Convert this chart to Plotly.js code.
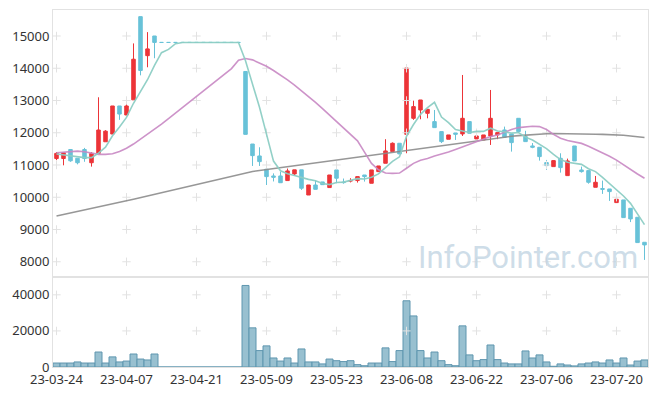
<!DOCTYPE html>
<html><head><meta charset="utf-8">
<script src="https://cdn.plot.ly/plotly-3.0.1.min.js"></script>
<style>html,body{margin:0;padding:0;background:#fff}#chart{width:657px;height:396px}</style>
</head><body><div id="chart"></div>
<script>
const dates = ["23-03-24","23-03-27","23-03-28","23-03-29","23-03-30","23-03-31","23-04-03","23-04-04","23-04-05","23-04-06",
"23-04-07","23-04-10","23-04-11","23-04-12","23-04-13","23-04-14","23-04-17","23-04-18","23-04-19","23-04-20",
"23-04-21","23-04-24","23-04-25","23-04-26","23-04-27","23-04-28","23-05-02","23-05-03","23-05-04","23-05-08",
"23-05-09","23-05-10","23-05-11","23-05-12","23-05-15","23-05-16","23-05-17","23-05-18","23-05-19","23-05-22",
"23-05-23","23-05-24","23-05-25","23-05-26","23-05-30","23-05-31","23-06-01","23-06-02","23-06-05","23-06-07",
"23-06-08","23-06-09","23-06-12","23-06-13","23-06-14","23-06-15","23-06-16","23-06-19","23-06-20","23-06-21",
"23-06-22","23-06-23","23-06-26","23-06-27","23-06-28","23-06-29","23-06-30","23-07-03","23-07-04","23-07-05",
"23-07-06","23-07-07","23-07-10","23-07-11","23-07-12","23-07-13","23-07-14","23-07-17","23-07-18","23-07-19",
"23-07-20","23-07-21","23-07-24","23-07-25","23-07-26"];

const openP = [11200,11200,11480,11210,11480,11070,11360,11720,11960,12830,
12550,13020,15600,14390,15000,14800,14800,14800,14800,14800,
14800,14800,14800,14800,14800,14800,14800,13900,11650,11280,
10868,10660,10660,10517,10723,10850,10070,10380,10475,10300,
10847,10470,10500,10517,10690,10434,10795,11054,11415,11674,
11952,12448,12706,12603,12345,12035,11798,11994,11963,12345,
11808,11777,11900,11932,12087,11963,12448,11880,11591,11550,
11074,10950,11208,10671,11590,10846,10826,10309,10270,10257,
9834,9917,9658,9379,8604];
const highP = [11400,11400,11480,11210,11530,11400,13100,12080,12830,12830,
13100,14770,15600,15120,15000,14800,14800,14800,14800,14800,
14800,14800,14800,14800,14800,14800,14800,13900,11650,11550,
10868,10740,10790,10890,10850,10850,10380,10517,10475,10690,
10847,10580,10590,10640,10690,10847,10970,11800,11700,11674,
14008,12995,13016,12727,12706,12035,11932,11994,13791,12345,
11970,11932,13326,12004,12190,11963,12448,12060,11680,11550,
11157,11126,11363,11198,11590,10950,10826,10660,10516,10257,
9990,9917,9658,9379,8604];
const lowP = [11150,10990,11100,11020,11100,10950,11360,11720,11960,12400,
12550,13020,13780,14030,14310,14800,14800,14800,14800,14800,
14800,14800,14800,14800,14800,14800,14800,11950,10970,10970,
10380,10490,10450,10517,10680,10227,10070,10245,10390,10300,
10434,10420,10460,10455,10485,10434,10795,11054,11415,11343,
11364,12400,12418,12448,12159,11680,11798,11777,11900,11983,
11808,11777,11622,11800,11859,11415,11990,11725,11520,11136,
10847,10950,10764,10671,11126,10764,10420,10309,10103,9886,
9834,9369,9230,8594,8057];
const closeP = [11360,11380,11130,11070,11200,11360,12085,12050,12830,12580,
12830,14280,13930,14600,14800,14800,14800,14800,14800,14800,
14800,14800,14800,14800,14800,14800,14800,11950,11290,11105,
10640,10620,10450,10816,10850,10280,10380,10245,10390,10690,
10590,10455,10517,10640,10640,10847,10970,11436,11674,11343,
14008,12810,13016,12727,12159,11725,11932,11953,12448,11983,
11900,11932,12448,12004,11859,11694,12035,11725,11550,11260,
10981,11136,10919,11126,11126,10795,10464,10464,10247,10175,
9937,9369,9328,8594,8522];
const volume = [2200,2200,2200,2800,2200,2200,8300,2200,5600,2800,
3300,7200,4400,3900,7200,0,0,0,0,0,
0,0,0,0,0,0,0,45200,21700,9100,
11700,5000,3300,5000,2200,10000,2800,2800,1700,4400,
3500,3000,3500,1300,700,2200,2200,10600,3000,9100,
36700,28300,9100,5000,8300,3500,1300,700,22800,6700,
3500,4100,12200,4100,2200,1700,1700,8900,5000,6700,
2800,400,1700,1100,600,1700,2200,2800,2200,3900,
2200,5000,1100,3300,3900];
const ma5 = [11340,11310,11290,11260,11228,11228,11369,11553,11905,12181,
12475,12914,13290,13644,14088,14482,14586,14760,14800,14800,
14800,14800,14800,14800,14800,14800,14800,14230,13528,12789,
11957,11121,10821,10726,10675,10603,10555,10510,10425,10393,
10455,10470,10528,10578,10568,10620,10723,10907,11113,11254,
11886,12254,12570,12781,12944,12487,12312,12099,12043,12008,
12043,12043,12142,12053,12029,11987,12008,11863,11773,11653,
11510,11330,11169,11084,11058,11020,10886,10795,10619,10429,
10257,10038,9811,9481,9150];
const ma20 = [11380,11400,11420,11430,11410,11360,11330,11330,11350,11420,
11520,11650,11800,11950,12100,12270,12440,12610,12780,12950,
13120,13290,13460,13630,13800,13990,14250,14300,14260,14170,
14060,13930,13790,13640,13480,13310,13130,12940,12750,12550,
12350,12150,11950,11750,11400,11050,10850,10750,10740,10750,
10900,11050,11150,11200,11280,11330,11400,11480,11560,11650,
11720,11790,11880,11930,12020,12100,12160,12190,12200,12190,
12100,11950,11830,11760,11720,11670,11580,11480,11380,11270,
11150,11000,10850,10720,10590];
const ma60 = [9420,9465,9510,9555,9600,9645,9690,9740,9790,9840,
9890,9940,9990,10040,10090,10140,10190,10240,10290,10340,
10390,10440,10490,10540,10590,10640,10700,10760,10800,10830,
10860,10890,10920,10950,10980,11010,11040,11070,11100,11130,
11160,11190,11220,11250,11280,11310,11340,11370,11400,11430,
11460,11490,11520,11550,11580,11610,11640,11670,11700,11730,
11760,11790,11820,11845,11870,11890,11910,11930,11945,11960,
11970,11975,11975,11975,11970,11965,11960,11955,11950,11945,
11935,11920,11900,11880,11850];
const xTicks = ["23-03-24","23-04-07","23-04-21","23-05-09","23-05-23","23-06-08","23-06-22","23-07-06","23-07-20"];
const priceTicks = [8000,9000,10000,11000,12000,13000,14000,15000];
const volTicks = [0,20000,40000];

const RED = 'rgb(236,52,56)', BLUE = 'rgb(104,194,216)';
const crossP = {x:[], y:[]}, crossV = {x:[], y:[]};
xTicks.forEach(t => { priceTicks.forEach(v => { crossP.x.push(t); crossP.y.push(v); });
  volTicks.filter(v => v > 0).forEach(v => { crossV.x.push(t); crossV.y.push(v); }); });
const crossMarker = {symbol:'cross-thin', size:6, line:{color:'#e2e2e2', width:1}};

const traces = [
  {type:'scatter', mode:'markers', x:crossP.x, y:crossP.y, xaxis:'x2', yaxis:'y', marker:crossMarker, hoverinfo:'skip', showlegend:false},
  {type:'scatter', mode:'markers', x:crossV.x, y:crossV.y, xaxis:'x', yaxis:'y2', marker:crossMarker, hoverinfo:'skip', showlegend:false},
  {type:'candlestick', x:dates, open:openP, high:highP, low:lowP, close:closeP, xaxis:'x2', yaxis:'y',
   increasing:{line:{color:RED, width:1}, fillcolor:RED},
   decreasing:{line:{color:BLUE, width:1}, fillcolor:BLUE},
   whiskerwidth:0, showlegend:false},
  {type:'scatter', mode:'lines', x:dates, y:ma60, xaxis:'x2', yaxis:'y', line:{color:'rgba(140,140,140,0.9)', width:1.6}, showlegend:false},
  {type:'scatter', mode:'lines', x:dates, y:ma20, xaxis:'x2', yaxis:'y', line:{color:'rgba(200,135,195,0.9)', width:1.6}, showlegend:false},
  {type:'scatter', mode:'lines', x:dates, y:ma5, xaxis:'x2', yaxis:'y', line:{color:'rgba(140,206,196,0.95)', width:1.6}, showlegend:false},
  {type:'bar', x:dates, y:volume, xaxis:'x', yaxis:'y2', marker:{color:'rgb(152,192,208)', line:{color:'rgb(95,150,175)', width:1}}, showlegend:false}
];

const tickFont = {family:'Noto Sans, DejaVu Sans, sans-serif', size:13, color:'#333'};
const frame = {showline:true, linecolor:'#e2e2e2', linewidth:1, mirror:true, showgrid:false, zeroline:false};
const layout = {
  width:657, height:396, margin:{l:53, r:9, t:10, b:29},
  paper_bgcolor:'#fff', plot_bgcolor:'#fff', showlegend:false, bargap:0, boxgap:0.28,
  xaxis: Object.assign({type:'category', categoryorder:'array', categoryarray:dates, range:[-0.5,84.5],
    anchor:'y2', tickmode:'array', tickvals:xTicks, ticktext:xTicks, ticks:'', tickfont:tickFont,
    rangeslider:{visible:false}}, frame),
  xaxis2: Object.assign({type:'category', categoryorder:'array', categoryarray:dates, range:[-0.5,84.5],
    anchor:'y', matches:'x', showticklabels:false, ticks:'', rangeslider:{visible:false}}, frame),
  yaxis: Object.assign({domain:[0.2521,1], range:[7527,15806], anchor:'x2', tickmode:'array', tickvals:priceTicks,
    ticktext:priceTicks.map(String), ticks:'', tickfont:tickFont}, frame),
  yaxis2: Object.assign({domain:[0,0.2521], range:[0,49890], anchor:'x', tickmode:'array', tickvals:volTicks,
    ticktext:volTicks.map(String), ticks:'', tickfont:tickFont}, frame),
  annotations:[{text:'InfoPointer.com', xref:'paper', yref:'paper', x:0.987, y:0.308, xanchor:'right', yanchor:'middle',
    showarrow:false, font:{family:'Roboto, Noto Sans, sans-serif', size:31, color:'rgba(190,210,225,0.75)'}}]
};
Plotly.newPlot('chart', traces, layout, {staticPlot:true, displayModeBar:false});
</script></body></html>
